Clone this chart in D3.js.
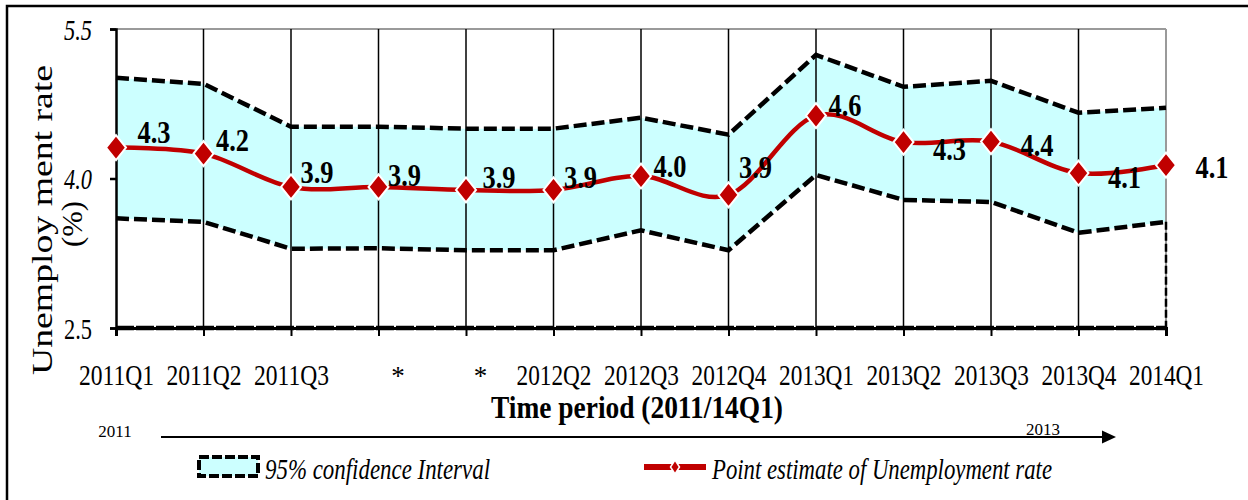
<!DOCTYPE html>
<html>
<head>
<meta charset="utf-8">
<script src="https://cdn.jsdelivr.net/npm/d3@7"></script>
<style>
  html, body { margin: 0; padding: 0; background: #fff; }
  svg { display: block; }
  text { font-family: "Liberation Serif", "Times New Roman", serif; }
</style>
</head>
<body>
<svg id="chart" width="1248" height="500"></svg>
<script>
// ---------------- DATA ----------------
const categories = ["2011Q1","2011Q2","2011Q3","2011Q4","2012Q1","2012Q2","2012Q3","2012Q4","2013Q1","2013Q2","2013Q3","2013Q4","2014Q1"];
const xTickLabels = ["2011Q1","2011Q2","2011Q3","*","*","2012Q2","2012Q3","2012Q4","2013Q1","2013Q2","2013Q3","2013Q4","2014Q1"];
const pointEstimate = [4.31, 4.25, 3.915, 3.915, 3.885, 3.885, 4.025, 3.835, 4.63, 4.365, 4.37, 4.055, 4.135];
const pointLabels = ["4.3","4.2","3.9","3.9","3.9","3.9","4.0","3.9","4.6","4.3","4.4","4.1","4.1"];
const upperCI = [5.01, 4.95, 4.52, 4.52, 4.50, 4.50, 4.61, 4.44, 5.24, 4.92, 4.98, 4.66, 4.71];
const lowerCI = [3.60, 3.565, 3.295, 3.30, 3.28, 3.28, 3.48, 3.28, 4.035, 3.785, 3.765, 3.455, 3.565];
const yTickValues = [2.5, 4.0, 5.5];
const yTickLabels = ["2.5", "4.0", "5.5"];
const yTitle = ["Unemploy ment rate", "(%)"];
const xTitle = "Time period (2011/14Q1)";
const arrowStart = "2011";
const arrowEnd = "2013";
const legendCI = "95% confidence Interval";
const legendPoint = "Point estimate of Unemployment rate";

// ---------------- DRAW ----------------
const svg = d3.select("#chart");
const red = "#C00000";
const cyan = "#CCFFFF";

const x = d3.scalePoint().domain(categories).range([116, 1166]);
const y = d3.scaleLinear().domain([2.5, 5.5]).range([328, 29]);

const rows = categories.map((c, i) => ({ c, v: pointEstimate[i], lo: lowerCI[i], hi: upperCI[i], lab: pointLabels[i] }));

// outer frame
svg.append("rect").attr("x", 7).attr("y", 6).attr("width", 1270).attr("height", 520)
  .attr("fill", "none").attr("stroke", "#000").attr("stroke-width", 2.5);

// band
svg.append("path").datum(rows)
  .attr("fill", cyan)
  .attr("d", d3.area().x(d => x(d.c)).y0(d => y(d.lo)).y1(d => y(d.hi)));

// plot border (gray) top & right
svg.append("line").attr("x1", x(categories[0])).attr("x2", x(categories[12]))
  .attr("y1", y(5.5)).attr("y2", y(5.5)).attr("stroke", "#9a9a9a").attr("stroke-width", 2);
svg.append("line").attr("x1", x(categories[12])).attr("x2", x(categories[12]))
  .attr("y1", y(5.5)).attr("y2", y(2.5)).attr("stroke", "#9a9a9a").attr("stroke-width", 2);

// vertical grid lines
svg.append("g").selectAll("line").data(categories.slice(1, 12)).join("line")
  .attr("x1", d => x(d)).attr("x2", d => x(d))
  .attr("y1", y(5.5)).attr("y2", y(2.5))
  .attr("stroke", "#000").attr("stroke-width", 1.5);

// dashed bounds
const dash = "13,5";
svg.append("path").datum(rows).attr("fill", "none").attr("stroke", "#000")
  .attr("stroke-width", 4.5).attr("stroke-dasharray", dash)
  .attr("d", d3.line().x(d => x(d.c)).y(d => y(d.hi)));
svg.append("path").datum(rows).attr("fill", "none").attr("stroke", "#000")
  .attr("stroke-width", 4.5).attr("stroke-dasharray", dash)
  .attr("d", d3.line().x(d => x(d.c)).y(d => y(d.lo)));
// right edge of the band area
const last = rows[rows.length - 1];
svg.append("line").attr("x1", x(last.c)).attr("x2", x(last.c))
  .attr("y1", y(last.lo)).attr("y2", y(2.5))
  .attr("stroke", "#000").attr("stroke-width", 2.5).attr("stroke-dasharray", "8,3");

// Y axis
const yAxis = svg.append("g").attr("transform", `translate(${x(categories[0])},0)`)
  .call(d3.axisLeft(y).tickValues(yTickValues).tickSize(6).tickFormat((d, i) => yTickLabels[i]));
yAxis.select(".domain").attr("stroke", "#000").attr("stroke-width", 2.5);
yAxis.selectAll(".tick line").attr("stroke", "#000").attr("stroke-width", 2.5);
yAxis.selectAll(".tick text")
  .attr("x", -24).attr("dy", "0.35em")
  .attr("font-size", 29).attr("fill", "#000")
  .attr("font-style", d => d === 2.5 ? "normal" : "italic")
  .attr("textLength", 28).attr("lengthAdjust", "spacingAndGlyphs");

// X axis
const xAxis = svg.append("g").attr("transform", `translate(0,${y(2.5)})`)
  .call(d3.axisBottom(x).tickSize(8).tickFormat((d, i) => xTickLabels[i]));
xAxis.select(".domain").attr("stroke", "#000").attr("stroke-width", 3);
xAxis.selectAll(".tick line").attr("stroke", "#000").attr("stroke-width", 2);
xAxis.selectAll(".tick text")
  .attr("y", 57).attr("dy", 0)
  .attr("font-size", 30).attr("fill", "#000")
  .each(function(d, i) {
    const t = d3.select(this);
    if (xTickLabels[i] === "*") {
      t.attr("dx", i === 3 ? 19 : 14).attr("font-size", 27);
    } else {
      t.attr("textLength", 75).attr("lengthAdjust", "spacingAndGlyphs");
    }
  });
// bottom dashed border over axis
svg.append("line").attr("x1", x(categories[0])).attr("x2", x(categories[12]))
  .attr("y1", y(2.5)).attr("y2", y(2.5))
  .attr("stroke", "#000").attr("stroke-width", 4.5).attr("stroke-dasharray", "18,2");

// red smoothed line
svg.append("path").datum(rows).attr("fill", "none").attr("stroke", red)
  .attr("stroke-width", 4.5)
  .attr("d", d3.line().curve(d3.curveCatmullRom.alpha(0)).x(d => x(d.c)).y(d => y(d.v)));

// diamonds
const diamond = (w, h) => `M0,${-h/2}L${w/2},0L0,${h/2}L${-w/2},0Z`;
svg.append("g").selectAll("path").data(rows).join("path")
  .attr("transform", d => `translate(${x(d.c)},${y(d.v)})`)
  .attr("d", diamond(20, 25))
  .attr("fill", red).attr("stroke", "#fff").attr("stroke-width", 2);

// data labels (layout nudges relative to each point)
const labelNudge = [[38,-16],[29,-14],[26,-15],[26,-12],[33,-13],[27,-13],[29,-10],[27,-28],[29,-11],[46,7],[46,3],[46,4],[46,2]];
svg.append("g").selectAll("text").data(rows).join("text")
  .attr("x", (d, i) => x(d.c) + labelNudge[i][0])
  .attr("y", (d, i) => y(d.v) + labelNudge[i][1] + 11)
  .attr("text-anchor", "middle")
  .attr("font-size", 32).attr("font-weight", "bold").attr("fill", "#000")
  .attr("textLength", 33).attr("lengthAdjust", "spacingAndGlyphs")
  .text(d => d.lab);

// Y title
svg.append("text").attr("transform", "translate(52,220) rotate(-90)")
  .attr("text-anchor", "middle").attr("font-size", 30).attr("fill", "#000")
  .attr("textLength", 310).attr("lengthAdjust", "spacingAndGlyphs")
  .text(yTitle[0]);
svg.append("text").attr("transform", "translate(82,224) rotate(-90)")
  .attr("text-anchor", "middle").attr("font-size", 30).attr("fill", "#000")
  .attr("textLength", 46).attr("lengthAdjust", "spacingAndGlyphs")
  .text(yTitle[1]);

// X title
svg.append("text").attr("x", 637).attr("y", 418).attr("text-anchor", "middle")
  .attr("font-size", 32).attr("font-weight", "bold").attr("fill", "#000")
  .attr("textLength", 292).attr("lengthAdjust", "spacingAndGlyphs")
  .text(xTitle);

// arrow
svg.append("line").attr("x1", 161).attr("x2", 1104).attr("y1", 437).attr("y2", 437)
  .attr("stroke", "#000").attr("stroke-width", 2);
svg.append("path").attr("d", "M1102,430.5L1116,437L1102,443.5Z").attr("fill", "#000");
svg.append("text").attr("x", 115).attr("y", 437).attr("text-anchor", "middle")
  .attr("font-size", 17).attr("fill", "#000").text(arrowStart);
svg.append("text").attr("x", 1043).attr("y", 435).attr("text-anchor", "middle")
  .attr("font-size", 17).attr("fill", "#000").text(arrowEnd);

// legend
svg.append("rect").attr("x", 199).attr("y", 457).attr("width", 59).attr("height", 19)
  .attr("fill", cyan).attr("stroke", "#000").attr("stroke-width", 4).attr("stroke-dasharray", "10,3");
svg.append("text").attr("x", 265).attr("y", 479).attr("font-size", 29).attr("font-style", "italic")
  .attr("fill", "#000").attr("textLength", 225).attr("lengthAdjust", "spacingAndGlyphs")
  .text(legendCI);
svg.append("line").attr("x1", 644).attr("x2", 706).attr("y1", 467).attr("y2", 467)
  .attr("stroke", red).attr("stroke-width", 6);
svg.append("path").attr("transform", "translate(675,467)").attr("d", diamond(9, 14))
  .attr("fill", red).attr("stroke", "#fff").attr("stroke-width", 1.5);
svg.append("text").attr("x", 712).attr("y", 479).attr("font-size", 29).attr("font-style", "italic")
  .attr("fill", "#000").attr("textLength", 340).attr("lengthAdjust", "spacingAndGlyphs")
  .text(legendPoint);
</script>
</body>
</html>
